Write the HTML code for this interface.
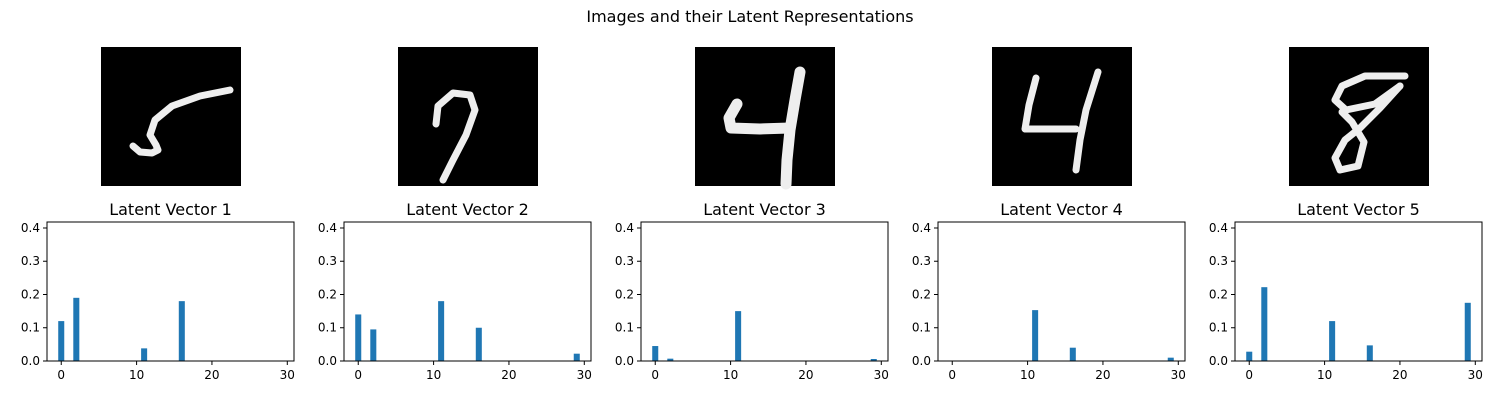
<!DOCTYPE html>
<html><head><meta charset="utf-8"><style>
body{margin:0;background:#fff;font-family:"Liberation Sans","DejaVu Sans",sans-serif}
svg text{font-family:"DejaVu Sans","Liberation Sans",sans-serif}
</style></head><body>
<svg id="fig" width="1500" height="400" xmlns="http://www.w3.org/2000/svg">
<rect width="1500" height="400" fill="#fff"/>
<text x="750" y="22" text-anchor="middle" font-size="16">Images and their Latent Representations</text>
<g id="digits"></g>
<g id="charts"></g>
</svg>
<script>
const NS="http://www.w3.org/2000/svg";
const latentIndices=[0,2,11,16,29];
const series1=[0.12,0.19,0.038,0.18,0];
const series2=[0.14,0.095,0.18,0.10,0.022];
const series3=[0.045,0.007,0.15,0,0.006];
const series4=[0,0,0.153,0.04,0.01];
const series5=[0.028,0.222,0.12,0.047,0.175];
const allSeries=[series1,series2,series3,series4,series5];
const xTicks=[0,10,20,30];
const yTicks=[0.0,0.1,0.2,0.3,0.4];
const strokes=[
 [[[230,90],[200,96],[172,106],[155,120],[150,135],[156,145],[158,150],[152,153],[140,152],[133,146]]],
 [[[436,124],[438,106],[453,93],[470,95],[475,110],[466,135],[453,160],[443,180]]],
 [[[737,104],[729,118],[731,128],[760,129],[790,128]],[[800,72],[795,100],[790,130],[787,160],[786,184]]],
 [[[1036,78],[1029,105],[1025,129],[1076,129]],[[1098,72],[1086,110],[1080,140],[1076,170]]],
 [[[1405,76],[1365,76],[1342,86],[1335,100],[1346,110],[1375,104],[1400,86]],[[1400,86],[1380,108],[1360,128],[1345,140],[1335,158],[1340,170],[1358,166],[1364,142],[1352,122],[1342,112]]]
];
function el(t,a,p){const e=document.createElementNS(NS,t);for(const k in a)e.setAttribute(k,a[k]);p.appendChild(e);return e;}
const dg=document.getElementById('digits');
for(let i=0;i<5;i++){
 const x0=101+297*i;
 const r=el('rect',{x:x0,y:47,width:140,height:139,fill:'#000'},dg);
 
 
 for(const s of strokes[i]){
  const p=el('polyline',{points:s.map(q=>q.join(',')).join(' '),fill:'none',stroke:'#eeeeee','stroke-width':(i==2?11:7),'stroke-linecap':'round','stroke-linejoin':'round'},dg);
  
  
 }
}
const cg=document.getElementById('charts');
const xmin=-1.89,xmax=30.89,ymax=0.418,W=247,H=139,plotTop=222;
for(let i=0;i<5;i++){
 const L=47+297*i;
 const g=el('g',{},cg);
 
 
 const xs=v=>L+(v-xmin)/(xmax-xmin)*W;
 const ys=v=>plotTop+H-v/ymax*H;
 const t=el('text',{x:L+W/2,y:215,'text-anchor':'middle','font-size':'16'},g);t.textContent='Latent Vector '+(i+1);
 
 
 latentIndices.forEach((k,j)=>{
  const v=allSeries[i][j];
  const b=el('rect',{x:xs(k-0.4),y:ys(v),width:xs(k+0.4)-xs(k-0.4),height:ys(0)-ys(v),fill:'#1f77b4'},g);
  
  
 });
 const f=el('rect',{x:L,y:plotTop,width:W,height:H,fill:'none',stroke:'#000','stroke-width':1},g);
 
 
 xTicks.forEach(v=>{const x=xs(v);el('line',{x1:x,x2:x,y1:plotTop+H,y2:plotTop+H+4,stroke:'#000'},g);
  const tx=el('text',{x:x,y:plotTop+H+18,'text-anchor':'middle','font-size':'12'},g);tx.textContent=v;
  
  });
 yTicks.forEach(v=>{const y=ys(v);el('line',{x1:L-4,x2:L,y1:y,y2:y,stroke:'#000'},g);
  const tx=el('text',{x:L-7,y:y+4,'text-anchor':'end','font-size':'12'},g);tx.textContent=v.toFixed(1);
  
  });
}
</script>
</body></html>
